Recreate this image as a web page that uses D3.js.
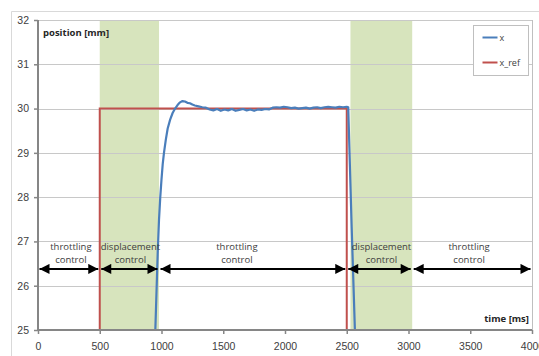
<!DOCTYPE html>
<html>
<head>
<meta charset="utf-8">
<script src="https://cdn.jsdelivr.net/npm/d3@7"></script>
<style>
  html, body { margin: 0; padding: 0; background: #fff; }
  svg { display: block; font-family: "Open Sans", "Liberation Sans", sans-serif; }
</style>
</head>
<body>
<svg id="chart" width="539" height="356"></svg>
<script>
// Axis ticks
const xTicks = [0, 500, 1000, 1500, 2000, 2500, 3000, 3500, 4000];
const yTicks = [25, 26, 27, 28, 29, 30, 31, 32];

// Shaded displacement-control intervals [start, end] in ms
const bandStarts = [500, 2530];
const bandEnds = [980, 3030];

// Reference position x_ref
const refTime = [0, 500, 500, 2500, 2500];
const refPos = [25, 25, 30, 30, 25];

// Measured position x
const xTime = [950, 960, 970, 980, 990, 1000, 1010, 1020, 1035, 1050, 1070, 1090, 1110, 1130, 1150, 1170, 1190, 1210, 1230, 1250,
  1270, 1300, 1330, 1360, 1390, 1420, 1450, 1480, 1510, 1540, 1570, 1600, 1630, 1660, 1690, 1720, 1750, 1780, 1810, 1840,
  1870, 1900, 1930, 1960, 1990, 2020, 2050, 2080, 2110, 2140, 2170, 2200, 2230, 2260, 2290, 2320, 2350, 2380, 2410, 2440,
  2470, 2500, 2512, 2540, 2566];
const xPos = [25.0, 25.9, 26.8, 27.5, 28.0, 28.4, 28.75, 29.0, 29.3, 29.55, 29.75, 29.9, 30.0, 30.08, 30.14, 30.17, 30.16, 30.13, 30.12, 30.09,
  30.07, 30.05, 30.03, 30.02, 29.98, 29.96, 29.99, 29.95, 29.98, 29.96, 29.99, 29.95, 29.97, 29.99, 29.96, 29.98, 29.95, 29.98, 29.97, 29.99,
  29.98, 30.02, 30.03, 30.02, 30.04, 30.03, 30.01, 30.02, 30.0, 30.01, 30.02, 30.0, 30.02, 30.03, 30.01, 30.03, 30.04, 30.03, 30.02, 30.04,
  30.03, 30.04, 30.03, 27.3, 25.0];

// Control-mode segments along the time axis
const modeStarts = [0, 500, 980, 2500, 3030];
const modeEnds = [500, 980, 2500, 3030, 4000];
const modeLine1 = ["throttling", "displacement", "throttling", "displacement", "throttling"];
const modeLine2 = ["control", "control", "control", "control", "control"];
const arrowLevel = 26.38;

const seriesNames = ["x", "x_ref"];
const seriesColors = ["#4a7ebb", "#c0504d"];

const svg = d3.select("#chart");
const plotLeft = 38, plotRight = 532, plotTop = 20, plotBottom = 330;

const x = d3.scaleLinear().domain([0, 4000]).range([plotLeft, plotRight]);
const y = d3.scaleLinear().domain([25, 32]).range([plotBottom, plotTop]);

// Outer chart frame
svg.append("path")
  .attr("d", `M11.5,356 V11.5 H539`)
  .attr("fill", "none").attr("stroke", "#d9d9d9").attr("stroke-width", 1);

// Clip for the data area
const defs = svg.append("defs");
defs.append("clipPath").attr("id", "plotClip")
  .append("rect").attr("x", plotLeft).attr("y", plotTop)
  .attr("width", plotRight - plotLeft).attr("height", plotBottom - plotTop);

// Green bands
svg.append("g").selectAll("rect").data(bandStarts).join("rect")
  .attr("x", (d) => x(d))
  .attr("width", (d, i) => x(bandEnds[i]) - x(d))
  .attr("y", plotTop).attr("height", plotBottom - plotTop)
  .attr("fill", "#d7e4bd");

// Horizontal gridlines
svg.append("g").selectAll("line").data(yTicks.filter(t => t > 25)).join("line")
  .attr("x1", plotLeft).attr("x2", plotRight)
  .attr("y1", d => Math.round(y(d)) + 0.5).attr("y2", d => Math.round(y(d)) + 0.5)
  .attr("stroke", "#c8c8c8").attr("stroke-width", 1);

// Plot area border (right side)
svg.append("line").attr("x1", plotRight + 0.5).attr("x2", plotRight + 0.5)
  .attr("y1", plotTop).attr("y2", plotBottom)
  .attr("stroke", "#bfbfbf");

// Series lines
const line = d3.line().x(d => x(d[0])).y(d => y(d[1]));
const dataG = svg.append("g").attr("clip-path", "url(#plotClip)");
dataG.append("path")
  .datum(refTime.map((t, i) => [t, refPos[i]]))
  .attr("d", line).attr("fill", "none")
  .attr("stroke", seriesColors[1]).attr("stroke-width", 2);
dataG.append("path")
  .datum(xTime.map((t, i) => [t, xPos[i]]))
  .attr("d", line).attr("fill", "none")
  .attr("stroke", seriesColors[0]).attr("stroke-width", 2.2)
  .attr("stroke-linejoin", "round");

// Axes
const axisColor = "#868686";
const yAxis = svg.append("g").attr("transform", `translate(${plotLeft},0)`)
  .call(d3.axisLeft(y).tickValues(yTicks).tickSize(4).tickPadding(5).tickFormat(d3.format("d")));
const xAxis = svg.append("g").attr("transform", `translate(0,${plotBottom})`)
  .call(d3.axisBottom(x).tickValues(xTicks).tickSize(4).tickPadding(9).tickFormat(d3.format("d")));
[xAxis, yAxis].forEach(a => {
  a.select(".domain").attr("stroke", axisColor).attr("stroke-width", 2);
  a.selectAll(".tick line").attr("stroke", axisColor).attr("stroke-width", 1.5);
  a.selectAll(".tick text").attr("fill", "#404040").attr("font-size", 10.5);
});
xAxis.select(".domain").attr("d", `M${plotLeft},0H${plotRight}`);
yAxis.select(".domain").attr("d", `M0,${plotBottom}V${plotTop}`);

// Axis titles
svg.append("text").attr("x", plotLeft + 5).attr("y", 36)
  .attr("font-size", 9.5).attr("font-weight", "bold").attr("fill", "#262626")
  .text("position [mm]");
svg.append("text").attr("x", plotRight - 3).attr("y", 322).attr("text-anchor", "end")
  .attr("font-size", 9.5).attr("font-weight", "bold").attr("fill", "#262626")
  .text("time [ms]");

// Double-headed arrows marking control modes
defs.append("marker").attr("id", "head").attr("viewBox", "0 0 10 10")
  .attr("refX", 10).attr("refY", 5).attr("markerWidth", 5.5).attr("markerHeight", 5)
  .attr("markerUnits", "strokeWidth").attr("orient", "auto-start-reverse")
  .append("path").attr("d", "M0,0 L10,5 L0,10 Z").attr("fill", "#000");

const ay = y(arrowLevel);
const modeG = svg.append("g");
modeG.selectAll("line").data(modeStarts).join("line")
  .attr("x1", (d) => x(d) + 1.5)
  .attr("x2", (d, i) => x(modeEnds[i]) - 1.5)
  .attr("y1", ay).attr("y2", ay)
  .attr("stroke", "#000").attr("stroke-width", 2)
  .attr("marker-start", "url(#head)").attr("marker-end", "url(#head)");

const labelShift = [2, 1, -16, 2, -3];
modeG.selectAll("text.l1").data(modeLine1).join("text").attr("class", "l1")
  .attr("x", (d, i) => x((modeStarts[i] + modeEnds[i]) / 2) + labelShift[i])
  .attr("y", ay - 19).attr("text-anchor", "middle")
  .attr("font-size", 9.5).attr("fill", "#404040").text(d => d);
modeG.selectAll("text.l2").data(modeLine2).join("text").attr("class", "l2")
  .attr("x", (d, i) => x((modeStarts[i] + modeEnds[i]) / 2) + labelShift[i])
  .attr("y", ay - 6).attr("text-anchor", "middle")
  .attr("font-size", 9.5).attr("fill", "#404040").text(d => d);

// Legend
const lg = svg.append("g").attr("transform", "translate(473.5,25.5)");
lg.append("rect").attr("width", 55).attr("height", 50)
  .attr("fill", "#fff").attr("stroke", "#bfbfbf");
seriesNames.forEach((name, i) => {
  const ly = 12 + i * 25;
  lg.append("line").attr("x1", 9).attr("x2", 24).attr("y1", ly).attr("y2", ly)
    .attr("stroke", seriesColors[i]).attr("stroke-width", 2);
  lg.append("text").attr("x", 26).attr("y", ly + 3)
    .attr("font-size", 9).attr("fill", "#404040").text(name);
});
</script>
</body>
</html>
